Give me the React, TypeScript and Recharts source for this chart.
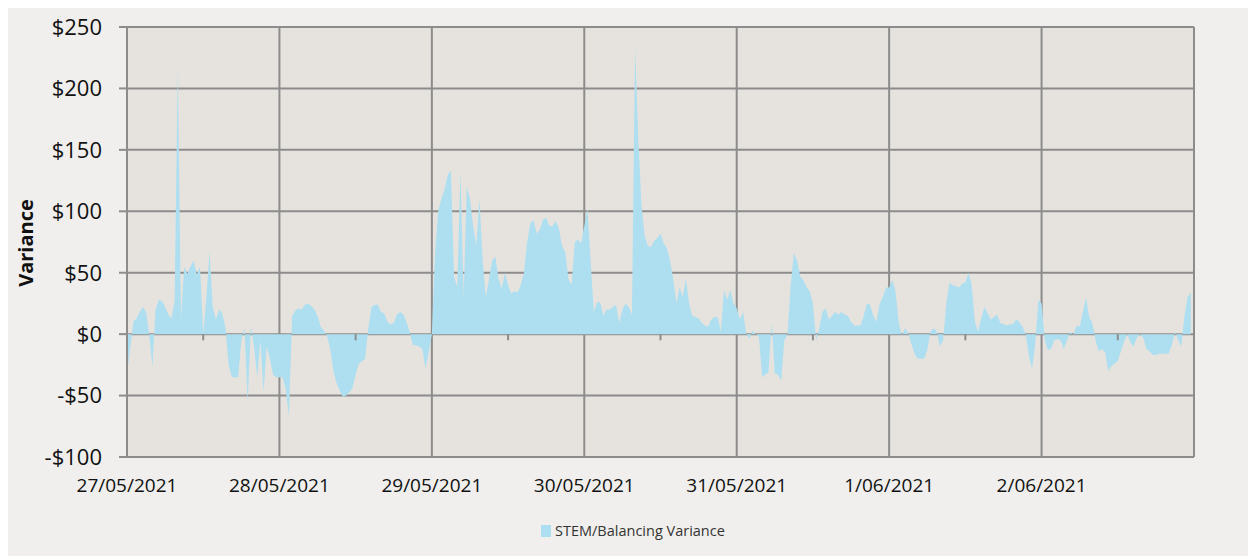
import {
  Area,
  AreaChart,
  CartesianGrid,
  Label,
  Legend,
  ReferenceLine,
  XAxis,
  YAxis,
} from "recharts";

const DATES = [
  "27/05/2021",
  "28/05/2021",
  "29/05/2021",
  "30/05/2021",
  "31/05/2021",
  "1/06/2021",
  "2/06/2021",
];

const Y_TICKS = [-100, -50, 0, 50, 100, 150, 200, 250];
const X_TICKS = [0, 1, 2, 3, 4, 5, 6, 7];
const HALF_DAYS = [0.5, 1.5, 2.5, 3.5, 4.5, 5.5, 6.5];

// half-hourly variance ($), one array per day
const DAY_1 = [
  -32, -12, 10, 13, 18, 22, 18, 0, -27, 20, 28, 27, 22, 16, 13, 27,
  217, 12, 55, 49, 55, 60, 48, 55, 0, 30, 67, 22, 12, 20, 17, 5,
  -25, -35, -35, -35, -5, 5, -56, 6, -10, -35, -5, -47, -10, -20, -33, -35,
];
const DAY_2 = [
  -35, -35, -45, -67, 15, 19, 21, 20, 24, 25, 23, 20, 15, 6, 3, -2,
  -12, -30, -40, -46, -51, -50, -47, -44, -33, -24, -22, -20, 5, 22, 24, 24,
  18, 17, 10, 8, 9, 16, 18, 16, 10, 2, -9, -9, -10, -12, -28, -15,
];
const DAY_3 = [
  0, 65, 100, 110, 118, 130, 133, 47, 38, 133, 30, 120, 110, 88, 72, 110,
  60, 30, 45, 60, 63, 45, 37, 50, 40, 33, 35, 34, 40, 50, 75, 90,
  93, 82, 85, 93, 95, 88, 88, 92, 86, 72, 67, 45, 40, 75, 77, 74,
];
const DAY_4 = [
  88, 102, 60, 18, 26, 26, 15, 20, 20, 22, 24, 9, 20, 25, 22, 16,
  233, 160, 105, 80, 72, 71, 76, 78, 82, 74, 70, 60, 45, 25, 38, 30,
  45, 25, 15, 14, 13, 9, 7, 6, 12, 14, 14, 2, 36, 28, 36, 25,
];
const DAY_5 = [
  21, 12, 18, 0, -4, 3, 0, -2, -35, -33, -31, 9, -32, -33, -38, -5,
  0, 40, 66, 60, 47, 44, 38, 35, 25, -5, 5, 18, 21, 12, 15, 18,
  16, 18, 16, 15, 10, 7, 7, 7, 15, 25, 24, 15, 10, 25, 30, 38,
];
const DAY_6 = [
  38, 44, 35, 10, -2, 5, 1, -8, -16, -20, -20, -20, -13, 2, 5, 2,
  -10, -5, 25, 42, 40, 39, 38, 41, 42, 50, 40, 10, 2, 13, 22, 17,
  12, 14, 16, 9, 8, 7, 8, 8, 12, 10, 6, 0, -18, -28, -8, 28,
];
const DAY_7 = [
  25, -5, -13, -12, -5, -4, -5, -12, -5, 2, -1, 7, 6, 18, 30, 14,
  9, -5, -14, -12, -15, -30, -26, -24, -22, -14, -6, 0, -7, -10, -3, 0,
  -3, -12, -14, -17, -17, -16, -16, -16, -16, -9, 2, -5, -10, 15, 30, 34,
];

const DAYS = [DAY_1, DAY_2, DAY_3, DAY_4, DAY_5, DAY_6, DAY_7];

const data = DAYS.flatMap((vals, d) =>
  vals.map((v, i) => ({ t: d + i / 48, variance: v }))
);

const FONT = "'Open Sans', sans-serif";
const FILL = "#addff0";
const GRID = "#8c8c8c";

const money = (v: number) => (v < 0 ? `-$${Math.abs(v)}` : `$${v}`);

const renderLegend = () => (
  <div
    style={{
      display: "flex",
      alignItems: "center",
      fontFamily: FONT,
      fontSize: 14.5,
      color: "#333",
      whiteSpace: "nowrap",
    }}
  >
    <span
      style={{
        display: "inline-block",
        width: 10,
        height: 12,
        background: FILL,
        marginRight: 4,
      }}
    />
    STEM/Balancing Variance
  </div>
);

export default function App() {
  return (
    <div
      style={{
        marginLeft: -4,
        marginTop: -1,
        width: 1246,
        height: 549,
        background: "#f0efed",
      }}
    >
      <AreaChart
        width={1246}
        height={549}
        data={data}
        margin={{ top: 20, right: 56, bottom: 49, left: 0 }}
      >
        <CartesianGrid fill="#e6e3df" stroke={GRID} strokeWidth={2} />
        <XAxis
          type="number"
          dataKey="t"
          domain={[0, 7]}
          ticks={X_TICKS}
          interval={0}
          tickFormatter={(v: number) => DATES[v] ?? ""}
          axisLine={false}
          tickLine={false}
          tickSize={6}
          tickMargin={16}
          height={50}
          tick={{ fontSize: 19, fill: "#111", fontFamily: FONT }}
        />
        <YAxis
          type="number"
          domain={[-100, 250]}
          ticks={Y_TICKS}
          interval={0}
          width={123}
          tickFormatter={money}
          tickSize={8}
          tickMargin={17}
          axisLine={{ stroke: GRID, strokeWidth: 2 }}
          tickLine={{ stroke: GRID, strokeWidth: 2 }}
          tick={{ fontSize: 22, fill: "#111", fontFamily: FONT }}
        >
          <Label
            content={() => (
              <text
                x={21}
                y={236}
                transform="rotate(-90 21 236)"
                textAnchor="middle"
                dominantBaseline="central"
                fontFamily={FONT}
                fontWeight="bold"
                fontSize={20}
                fill="#111"
              >
                Variance
              </text>
            )}
          />
        </YAxis>
        <Area
          type="linear"
          dataKey="variance"
          name="STEM/Balancing Variance"
          stroke="none"
          fill={FILL}
          fillOpacity={1}
          baseValue={0}
          dot={false}
          activeDot={false}
          isAnimationActive={false}
        />
        {HALF_DAYS.map((x) => (
          <ReferenceLine
            key={x}
            segment={[
              { x, y: 0 },
              { x, y: -5 },
            ]}
            stroke={GRID}
            strokeWidth={2}
          />
        ))}
        <Legend
          verticalAlign="middle"
          align="center"
          content={renderLegend}
          wrapperStyle={{ top: 514, left: 537, width: 220 }}
        />
      </AreaChart>
    </div>
  );
}
